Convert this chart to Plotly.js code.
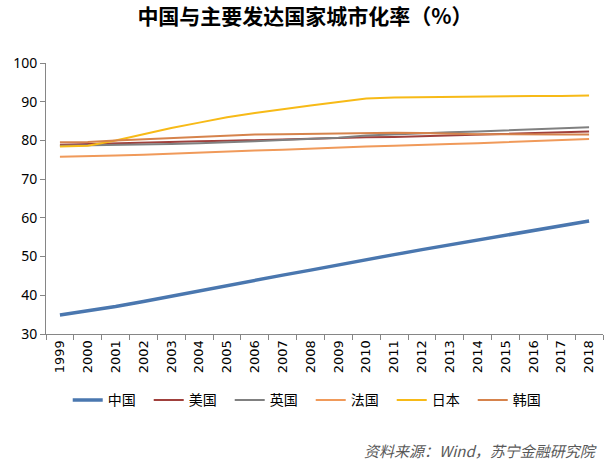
<!DOCTYPE html>
<html>
<head>
<meta charset="utf-8">
<script src="https://cdn.plot.ly/plotly-3.0.1.min.js"></script>
<style>html,body{margin:0;padding:0;background:#fff;}#chart{width:610px;height:461px;}</style>
</head>
<body>
<div id="chart"></div>
<script>
const years = ['1999','2000','2001','2002','2003','2004','2005','2006','2007','2008','2009','2010','2011','2012','2013','2014','2015','2016','2017','2018'];
const china  = [34.9,35.9,37.1,38.4,39.8,41.1,42.5,43.9,45.2,46.5,47.9,49.2,50.5,51.8,53.0,54.3,55.5,56.7,58.0,59.2];
const usa    = [78.9,79.1,79.2,79.4,79.6,79.8,79.9,80.1,80.3,80.4,80.6,80.8,80.9,81.1,81.3,81.5,81.7,81.9,82.1,82.3];
const uk     = [78.6,78.7,78.8,78.9,79.1,79.3,79.5,79.8,80.1,80.4,80.7,81.3,81.6,81.8,82.1,82.3,82.6,82.8,83.1,83.4];
const france = [75.8,75.9,76.1,76.3,76.6,76.8,77.1,77.4,77.6,77.9,78.1,78.4,78.6,78.9,79.1,79.3,79.6,79.8,80.2,80.4];
const japan  = [78.4,78.6,80.0,81.6,83.2,84.6,86.0,87.1,88.1,89.0,89.9,90.8,91.1,91.2,91.3,91.4,91.4,91.5,91.5,91.6];
const korea  = [79.5,79.6,80.0,80.3,80.6,80.9,81.3,81.5,81.6,81.7,81.8,81.9,82.0,81.9,81.7,81.6,81.6,81.5,81.5,81.5];
const names  = ['中国','美国','英国','法国','日本','韩国'];

const series = [china, usa, uk, france, japan, korea];
const colors = ['#4A77AF','#A0403C','#808080','#F09A5A','#F7BA17','#D6834C'];
const widths = [3.5,2,2,2,2,2];

const traces = series.map((s,i)=>({
  x: years, y: s, name: names[i], type:'scatter', mode:'lines',
  line:{color:colors[i], width:widths[i]}
}));

const layout = {
  width:610, height:461,
  margin:{l:46, r:7, t:63, b:127},
  paper_bgcolor:'#fff', plot_bgcolor:'#fff',
  font:{family:'"Noto Sans CJK SC", "DejaVu Sans", sans-serif', color:'#000'},
  title:{text:'<b>中国与主要发达国家城市化率（%）</b>', x:0.5, xref:'container', xanchor:'center', y:0.963, yref:'container', yanchor:'middle',
         font:{size:21, family:'"Noto Sans CJK SC", sans-serif', color:'#000'}},
  xaxis:{type:'category', range:[-0.5,19.5], showgrid:false, zeroline:false, showline:true, linecolor:'#868686', linewidth:1,
         ticks:'outside', tickson:'boundaries', ticklen:5, tickcolor:'#868686', tickangle:-90,
         tickfont:{size:13, family:'"DejaVu Sans", Verdana, sans-serif', color:'#000'}, fixedrange:true},
  yaxis:{range:[30,100], dtick:10, showgrid:false, zeroline:false, showline:true, linecolor:'#868686', linewidth:1,
         ticks:'outside', ticklen:5, tickcolor:'#868686',
         tickfont:{size:14, family:'"Noto Sans", "DejaVu Sans", sans-serif', color:'#000'}},
  showlegend:true,
  legend:{orientation:'h', x:0.039, xanchor:'left', y:-0.245, yanchor:'middle',
          font:{size:14, family:'"Noto Sans CJK SC", sans-serif', color:'#000'},
          itemwidth:30, entrywidth:36, entrywidthmode:'pixels', tracegroupgap:0, bgcolor:'rgba(0,0,0,0)'},
  annotations:[{text:'<i>资料来源：Wind，苏宁金融研究院</i>', xref:'paper', yref:'paper', x:0.992, y:-0.43,
               xanchor:'right', yanchor:'middle', showarrow:false,
               font:{size:15, color:'#595959', family:'"Noto Sans CJK SC", sans-serif'}}]
};

Plotly.newPlot('chart', traces, layout, {displayModeBar:false, staticPlot:true});
</script>
</body>
</html>
